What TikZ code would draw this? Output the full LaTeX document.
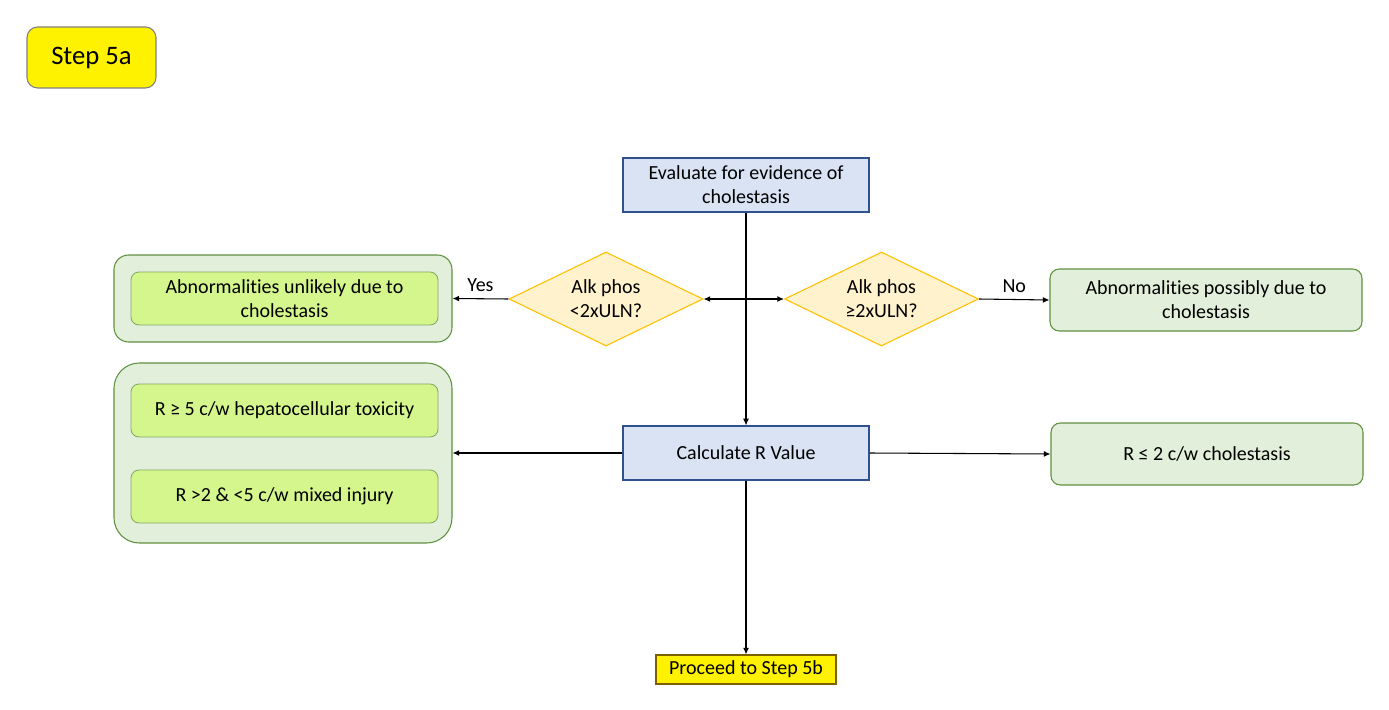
\documentclass[tikz,border=0pt]{standalone}
\usepackage{fontspec}
\setmainfont{Carlito}[Ligatures=NoCommon]
\usetikzlibrary{arrows.meta,shapes.geometric}

\definecolor{evalblue}{RGB}{218,227,243}
\definecolor{evalline}{RGB}{47,82,143}
\definecolor{diafill}{RGB}{255,242,204}
\definecolor{dialine}{RGB}{255,192,0}
\definecolor{palegreen}{RGB}{226,239,218}
\definecolor{limegreen}{RGB}{213,246,140}
\definecolor{boxgreen}{RGB}{96,145,64}
\definecolor{stepline}{RGB}{128,128,128}
\definecolor{proceedline}{RGB}{127,96,0}

\tikzset{
  txt/.style={font=\fontsize{15}{18}\selectfont, align=center, inner sep=0pt},
  evalbox/.style={txt, draw=evalline, fill=evalblue, line width=0.9pt,
    minimum width=184.5pt, minimum height=40.5pt},
  decision/.style={txt, diamond, aspect=2.06, draw=dialine, fill=diafill, line width=0.8pt,
    minimum width=145.5pt, minimum height=70.5pt},
  outerbox/.style={draw=boxgreen, fill=palegreen, line width=0.8pt,
    minimum width=253.5pt, inner sep=0pt},
  innerbox/.style={txt, draw=boxgreen!80, fill=limegreen, line width=0.6pt,
    rounded corners=6pt, minimum width=230.25pt, minimum height=39.75pt},
  resultbox/.style={txt, draw=boxgreen, fill=palegreen, line width=0.8pt,
    rounded corners=7pt, minimum width=234pt, minimum height=46.5pt},
  arr/.style={-{Latex[length=5pt,width=4.5pt]}, line width=0.8pt},
  dblarr/.style={{Latex[length=5pt,width=4.5pt]}-{Latex[length=5pt,width=4.5pt]}, line width=0.8pt}
}

\begin{document}
\begin{tikzpicture}[x=0.75pt, y=-0.75pt]
    \useasboundingbox (0,0) rectangle (1389,710);

    % Step label
    \node[txt, font=\fontsize{20}{22}\selectfont, draw=stepline, fill=yellow,
      line width=0.8pt, rounded corners=8pt, minimum width=96.75pt,
      minimum height=45.75pt] (step) at (91.5,57.5) {Step 5a};

    % Main column
    \node[evalbox] (evaluate) at (746,185) {Evaluate for evidence of\\cholestasis};
    \node[evalbox] (calcr) at (746,453) {Calculate R Value};
    \node[txt, draw=proceedline, fill=yellow, line width=0.8pt,
      minimum width=135pt, minimum height=21.75pt] (proceed) at (746,669.5)
      {Proceed to Step 5b};

    % Decisions
    \node[decision] (lowalk) at (606,299) {Alk phos\\<2xULN?};
    \node[decision] (highalk) at (881.5,299) {Alk phos\\≥2xULN?};

    % Left outcomes
    \node[outerbox, rounded corners=11pt, minimum height=65.25pt] (unlikely) at (283,298.5) {};
    \node[innerbox] (unlikelytxt) at (284.5,298.5) {Abnormalities unlikely due to\\cholestasis};
    \node[outerbox, rounded corners=19pt, minimum height=135pt] (rgroup) at (283,453) {};
    \node[innerbox] (hepato) at (284.5,410.5) {R ≥ 5 c/w hepatocellular toxicity};
    \node[innerbox] (mixed) at (284.5,496.5) {R >2 \& <5 c/w mixed injury};

    % Right outcomes
    \node[resultbox] (possibly) at (1206,300) {Abnormalities possibly due to\\cholestasis};
    \node[resultbox] (cholest) at (1207,454) {R ≤ 2 c/w cholestasis};

    % Connectors
    \draw[arr] (evaluate.south) -- (calcr.north);
    \draw[dblarr] (lowalk.east) -- (highalk.west);
    \draw[arr] (lowalk.west) -- node[txt, above=5pt] {Yes} (unlikely.east);
    \draw[arr] (highalk.east) -- node[txt, above=5pt] {No} (possibly.west);
    \draw[arr] (calcr.west) -- (rgroup.east);
    \draw[arr] (calcr.east) -- (cholest.west);
    \draw[arr] (calcr.south) -- (proceed.north);
\end{tikzpicture}
\end{document}
